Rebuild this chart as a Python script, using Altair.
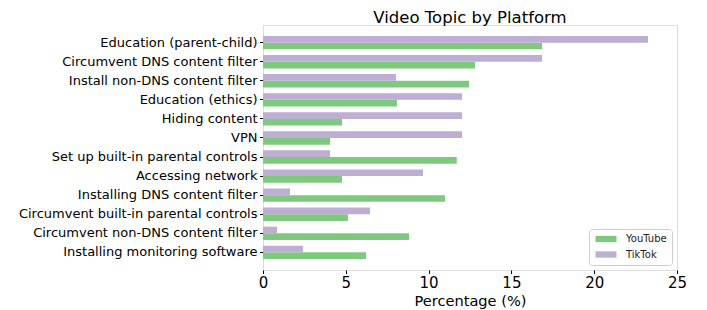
import altair as alt
import pandas as pd

topics = [
    "Education (parent-child)",
    "Circumvent DNS content filter",
    "Install non-DNS content filter",
    "Education (ethics)",
    "Hiding content",
    "VPN",
    "Set up built-in parental controls",
    "Accessing network",
    "Installing DNS content filter",
    "Circumvent built-in parental controls",
    "Circumvent non-DNS content filter",
    "Installing monitoring software",
]
youtube = [16.85, 12.8, 12.44, 8.09, 4.77, 4.05, 11.7, 4.77, 10.99, 5.13, 8.82, 6.22]
tiktok = [23.25, 16.85, 8.03, 12.02, 12.02, 12.02, 4.05, 9.66, 1.63, 6.46, 0.85, 2.42]
platforms = ["YouTube", "TikTok"]
colors = ["#7fc97f", "#beaed4"]

rows = []
for t, y, k in zip(topics, youtube, tiktok):
    rows.append({"topic": t, "platform": "YouTube", "value": y})
    rows.append({"topic": t, "platform": "TikTok", "value": k})
df = pd.DataFrame(rows)

FONT = "DejaVu Sans"

chart = alt.Chart(df).mark_bar().encode(
    y=alt.Y("topic:N", sort=topics,
            scale=alt.Scale(paddingInner=0.3, paddingOuter=0.575),
            axis=alt.Axis(title=None, labelFontSize=13, labelFont=FONT, labelColor="black",
                          tickColor="black", tickSize=3.5, labelPadding=2.5, domain=False,
                          labelLimit=400)),
    yOffset=alt.YOffset("platform:N", sort=["TikTok", "YouTube"],
                        scale=alt.Scale(paddingInner=0, paddingOuter=0)),
    x=alt.X("value:Q", scale=alt.Scale(domain=[0, 25], nice=False),
            axis=alt.Axis(title="Percentage (%)", values=[0, 5, 10, 15, 20, 25], grid=False,
                          labelFontSize=15, labelFont=FONT, labelColor="black",
                          labelFlush=False, labelOverlap=False,
                          titleFontSize=14.6, titleFont=FONT, titleFontWeight="normal",
                          titleColor="black", titlePadding=3,
                          tickColor="black", tickSize=3.5, labelPadding=2, domain=False)),
    color=alt.Color("platform:N",
                    scale=alt.Scale(domain=platforms, range=colors),
                    legend=alt.Legend(title=None, orient="bottom-right", offset=5,
                                      symbolType="M-3,-0.9H3V0.9H-3Z", symbolSize=49,
                                      symbolStrokeWidth=0, symbolOpacity=1,
                                      symbolOffset=7,
                                      labelFontSize=10, labelFont=FONT, labelColor="#222222",
                                      labelOffset=15, rowPadding=5.5, padding=5,
                                      strokeColor="#cccccc", fillColor="white",
                                      cornerRadius=3)),
).properties(
    width=414,
    height=245,
    title=alt.TitleParams("Video Topic by Platform", fontSize=16.5, font=FONT,
                          fontWeight="normal", color="black", anchor="middle", offset=-1),
    autosize=alt.AutoSizeParams(type="none"),
    padding={"left": 255, "top": 17, "right": 22, "bottom": 45},
).configure_view(stroke="black", strokeWidth=1).configure(background="white")

chart.save("out.html", embed_options={"renderer": "svg", "actions": False})
